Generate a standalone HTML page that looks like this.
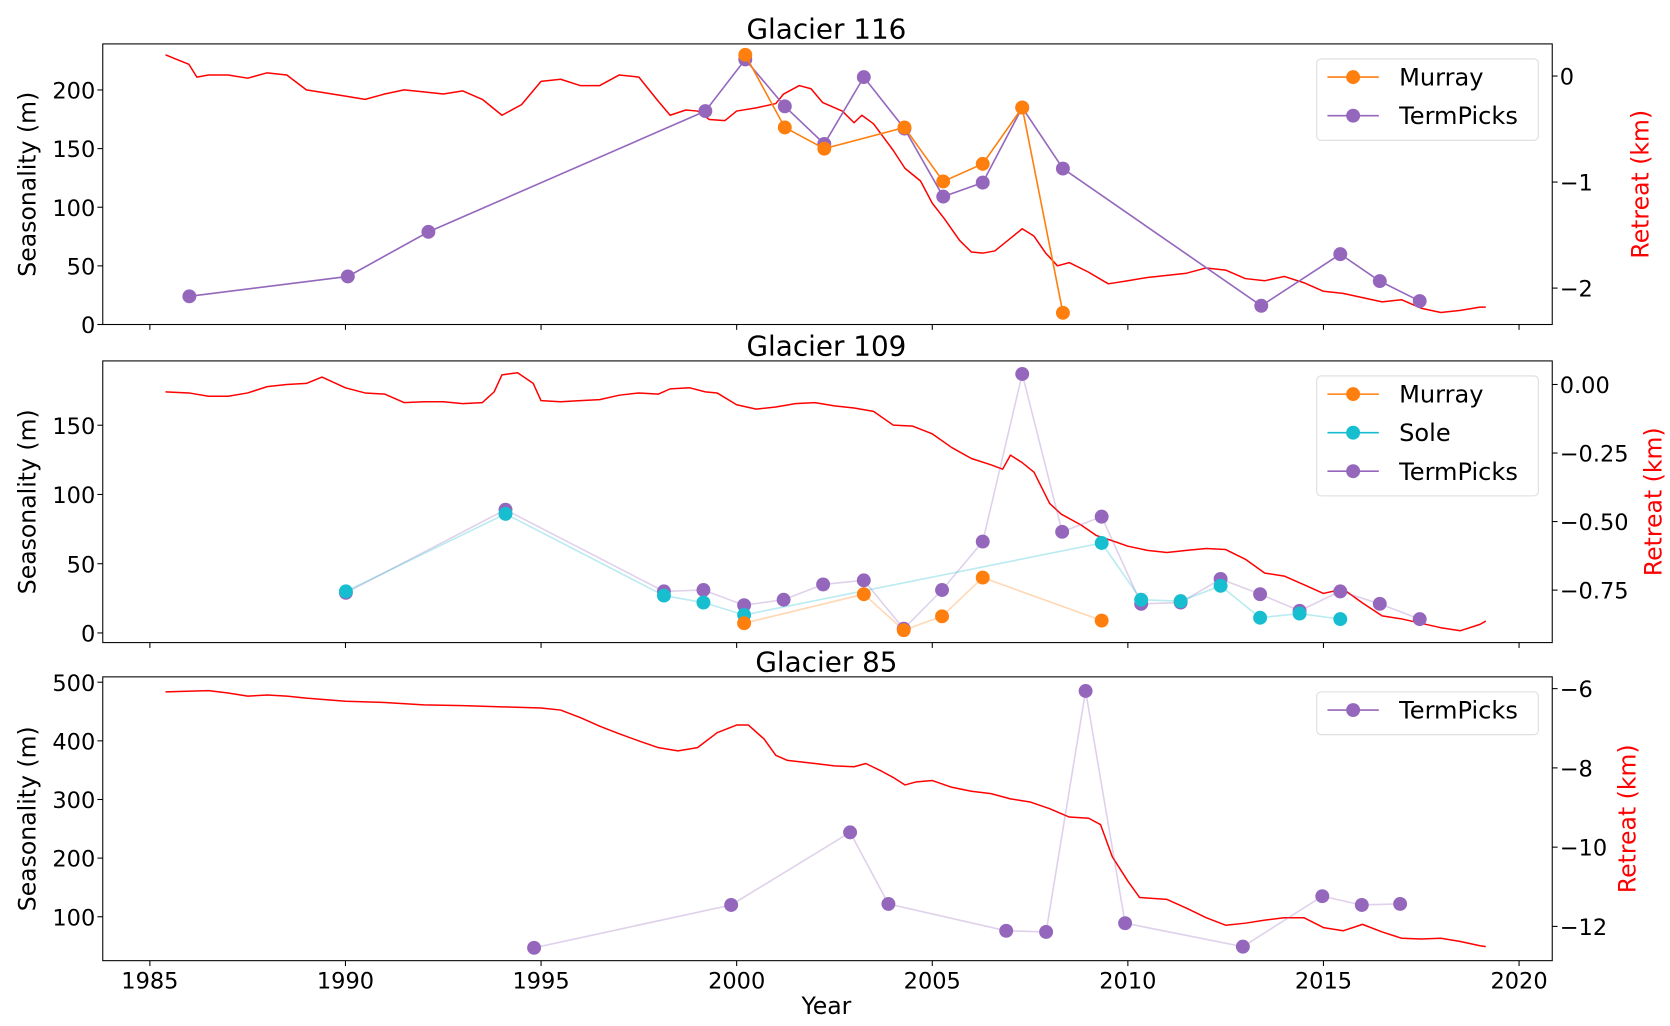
<!DOCTYPE html>
<html><head><meta charset="utf-8"><style>
html,body{margin:0;padding:0;background:#fff;}
svg{display:block;font-family:"DejaVu Sans","Liberation Sans",sans-serif;}
</style></head><body>
<svg id="chart" width="1670" height="1026" viewBox="0 0 1560 958" preserveAspectRatio="none" xmlns="http://www.w3.org/2000/svg"></svg>
<script>
// ---- Data ----
const p1TermYears=[1986.01,1990.06,1992.12,1999.2,2000.22,2001.23,2002.24,2003.25,2004.29,2005.28,2006.29,2007.30,2008.34,2013.41,2015.43,2016.44,2017.46];
const p1TermVals=[24,41,79,182,226,186,154,211,167,109,121,185,133,16,60,37,20];
const p1MurrayYears=[2000.22,2001.23,2002.24,2004.29,2005.28,2006.29,2007.30,2008.34];
const p1MurrayVals=[230,168,150,168,122,137,185,10];
const p1RedYears=[1985.4,1985.8,1986.0,1986.2,1986.5,1987,1987.5,1988,1988.5,1989,1989.5,1990,1990.5,1991,1991.5,1992,1992.5,1993,1993.5,1994,1994.5,1995,1995.5,1996,1996.5,1997,1997.5,1998,1998.3,1998.7,1999,1999.3,1999.7,2000,2000.5,2001,2001.2,2001.6,2001.9,2002.2,2002.7,2003,2003.2,2003.5,2004,2004.3,2004.7,2005,2005.3,2005.7,2006,2006.3,2006.6,2007,2007.3,2007.6,2007.9,2008.2,2008.5,2009,2009.5,2010,2010.5,2011,2011.5,2012,2012.5,2013,2013.5,2014,2014.5,2015,2015.5,2016,2016.5,2017,2017.5,2018,2018.5,2019,2019.15];
const p1RedVals=[0.20,0.14,0.11,-0.01,0.01,0.01,-0.02,0.03,0.01,-0.13,-0.16,-0.19,-0.22,-0.17,-0.13,-0.15,-0.17,-0.14,-0.22,-0.37,-0.27,-0.05,-0.03,-0.09,-0.09,0.01,-0.01,-0.24,-0.37,-0.32,-0.33,-0.41,-0.42,-0.33,-0.30,-0.26,-0.17,-0.09,-0.12,-0.25,-0.33,-0.44,-0.37,-0.45,-0.70,-0.87,-0.99,-1.20,-1.34,-1.55,-1.66,-1.67,-1.65,-1.53,-1.44,-1.51,-1.67,-1.79,-1.76,-1.85,-1.96,-1.93,-1.90,-1.88,-1.86,-1.81,-1.83,-1.91,-1.93,-1.89,-1.95,-2.03,-2.05,-2.09,-2.13,-2.11,-2.19,-2.23,-2.21,-2.18,-2.18];

const p2TermYears=[1990.01,1994.09,1998.14,1999.15,2000.19,2001.2,2002.21,2003.25,2004.27,2005.25,2006.29,2007.3,2008.32,2009.33,2010.34,2011.35,2012.37,2013.38,2014.39,2015.43,2016.44,2017.46];
const p2TermVals=[29,89,30,31,20,24,35,38,3,31,66,187,73,84,21,22,39,28,16,30,21,10];
const p2SoleYears=[1990.01,1994.09,1998.14,1999.15,2000.19,2009.33,2010.34,2011.35,2012.37,2013.38,2014.39,2015.43];
const p2SoleVals=[30,86,27,22,13,65,24,23,34,11,14,10];
const p2MurrayYears=[2000.19,2003.25,2004.27,2005.25,2006.29,2009.33];
const p2MurrayVals=[7,28,2,12,40,9];
const p2RedYears=[1985.4,1986,1986.5,1987,1987.5,1988,1988.5,1989,1989.4,1990,1990.5,1991,1991.5,1992,1992.5,1993,1993.5,1993.8,1994,1994.4,1994.8,1995,1995.5,1996,1996.5,1997,1997.5,1998,1998.3,1998.8,1999.2,1999.5,2000,2000.5,2001,2001.5,2002,2002.5,2003,2003.5,2004,2004.5,2005,2005.5,2006,2006.5,2006.8,2007,2007.3,2007.6,2008,2008.3,2008.8,2009.2,2009.6,2010,2010.5,2011,2011.5,2012,2012.5,2013,2013.5,2014,2014.5,2015,2015.5,2016,2016.5,2017,2017.5,2018,2018.5,2019,2019.15];
const p2RedVals=[-0.027,-0.031,-0.043,-0.043,-0.031,-0.008,0,0.004,0.027,-0.012,-0.031,-0.035,-0.066,-0.063,-0.063,-0.070,-0.066,-0.027,0.035,0.043,0.004,-0.059,-0.063,-0.059,-0.055,-0.039,-0.031,-0.035,-0.016,-0.012,-0.027,-0.031,-0.074,-0.090,-0.082,-0.070,-0.066,-0.078,-0.086,-0.098,-0.148,-0.152,-0.180,-0.230,-0.270,-0.293,-0.309,-0.258,-0.285,-0.320,-0.434,-0.473,-0.512,-0.551,-0.570,-0.590,-0.605,-0.613,-0.605,-0.598,-0.602,-0.637,-0.688,-0.699,-0.730,-0.762,-0.746,-0.797,-0.844,-0.855,-0.871,-0.887,-0.898,-0.875,-0.863];

const p3TermYears=[1994.82,1999.86,2002.9,2003.88,2006.89,2007.91,2008.92,2009.93,2012.94,2014.97,2015.98,2016.96];
const p3TermVals=[47,120,244,122,76,74,485,89,49,135,120,122];
const p3RedYears=[1985.4,1986.5,1987,1987.5,1988,1988.5,1989,1990,1991,1992,1993,1994,1995,1995.5,1996,1996.5,1997,1997.5,1998,1998.5,1999,1999.5,2000,2000.3,2000.7,2001,2001.3,2002,2002.5,2003,2003.3,2003.7,2004,2004.3,2004.6,2005,2005.5,2006,2006.5,2007,2007.5,2008,2008.5,2009,2009.3,2009.6,2010,2010.3,2011,2011.5,2012,2012.5,2013,2013.5,2014,2014.5,2015,2015.5,2016,2016.5,2017,2017.5,2018,2018.5,2019,2019.15];
const p3RedVals=[-6.08,-6.05,-6.11,-6.19,-6.16,-6.19,-6.24,-6.32,-6.35,-6.41,-6.43,-6.46,-6.49,-6.54,-6.73,-6.95,-7.14,-7.32,-7.49,-7.57,-7.49,-7.11,-6.92,-6.92,-7.27,-7.68,-7.81,-7.89,-7.95,-7.97,-7.89,-8.08,-8.24,-8.43,-8.35,-8.32,-8.49,-8.59,-8.65,-8.78,-8.86,-9.03,-9.24,-9.27,-9.43,-10.24,-10.86,-11.27,-11.32,-11.54,-11.78,-11.97,-11.92,-11.84,-11.78,-11.78,-12.03,-12.11,-11.95,-12.14,-12.30,-12.32,-12.30,-12.38,-12.49,-12.51];

const xTicks=[1985,1990,1995,2000,2005,2010,2015,2020];
const p1LeftTicks=[0,50,100,150,200];
const p1RightTicks=[0,-1,-2];
const p1RightLabels=["0","−1","−2"];
const p2LeftTicks=[0,50,100,150];
const p2RightTicks=[0,-0.25,-0.5,-0.75];
const p2RightLabels=["0.00","−0.25","−0.50","−0.75"];
const p3LeftTicks=[100,200,300,400,500];
const p3RightTicks=[-6,-8,-10,-12];
const p3RightLabels=["−6","−8","−10","−12"];

// ---- Rendering ----
const NS="http://www.w3.org/2000/svg";
const svg=document.getElementById('chart');
function mk(tag,attrs,parent){const e=document.createElementNS(NS,tag);for(const k in attrs)e.setAttribute(k,attrs[k]);(parent||svg).appendChild(e);return e;}
const X0=96,X1=1450;
function xs(y){return 140+(y-1985)*(1279/35);}
const C={purple:"#9467bd",orange:"#ff7f0e",cyan:"#17becf"};

function panel(o){
  const g=mk('g',{});
  
  
  const pts=o.redYears.map((y,i)=>xs(y).toFixed(1)+","+o.ry(o.redVals[i]).toFixed(1)).join(" ");
  const red=mk('polyline',{points:pts,fill:"none",stroke:"#ff0000","stroke-width":1.4,"stroke-linejoin":"round"},g);
  
  
  o.series.forEach(s=>{
    const sg=mk('g',{},g);
    
    
    const p=s.years.map((y,i)=>xs(y).toFixed(1)+","+o.ly(s.vals[i]).toFixed(1)).join(" ");
    mk('polyline',{points:p,fill:"none",stroke:s.color,"stroke-width":1.5,"stroke-opacity":s.alpha},sg);
    s.years.forEach((y,i)=>{
      const c=mk('circle',{cx:xs(y).toFixed(1),cy:o.ly(s.vals[i]).toFixed(1),r:6.5,fill:s.color},sg);
      
      
    });
  });
  const fr=mk('rect',{x:X0,y:o.top,width:X1-X0,height:o.bottom-o.top,fill:"none",stroke:"#000","stroke-width":1},g);
  
  
  xTicks.forEach(t=>{
    mk('line',{x1:xs(t),x2:xs(t),y1:o.bottom,y2:o.bottom+5,stroke:"#000"},g);
    if(o.xlabels){
      const tx=mk('text',{x:xs(t),y:o.bottom+26,"font-size":21,"text-anchor":"middle"},g);
      tx.textContent=t;
      
      
    }
  });
  o.leftTicks.forEach(t=>{
    const y=o.ly(t);
    mk('line',{x1:X0-5,x2:X0,y1:y,y2:y,stroke:"#000"},g);
    const tx=mk('text',{x:X0-7,y:y+8,"font-size":21,"text-anchor":"end"},g);
    tx.textContent=t;
    
    
  });
  o.rightTicks.forEach((t,i)=>{
    const y=o.ry(t);
    mk('line',{x1:X1,x2:X1+5,y1:y,y2:y,stroke:"#000"},g);
    const tx=mk('text',{x:X1+7,y:y+8,"font-size":21},g);
    tx.textContent=o.rightLabels[i];
    
    
  });
  const ti=mk('text',{x:772,y:o.top-5,"font-size":26,"text-anchor":"middle"},g);
  ti.textContent=o.title;
  
  
  const cy=(o.top+o.bottom)/2;
  const yl=mk('text',{x:0,y:0,"font-size":22,"text-anchor":"middle",transform:`translate(33,${cy}) rotate(-90)`},g);
  yl.textContent="Seasonality (m)";
  
  
  const rl=mk('text',{x:0,y:0,"font-size":22,"text-anchor":"middle",fill:"#ff0000",transform:`translate(${o.rlx},${cy}) rotate(-90)`},g);
  rl.textContent="Retreat (km)";
  
  
  const n=o.series.length;
  const lg=mk('g',{},g);
  
  
  mk('rect',{x:1230,y:o.top+14,width:207,height:36*n+4,rx:4,fill:"#fff","fill-opacity":0.85,stroke:"#ddd"},lg);
  o.legendOrder.forEach((s,i)=>{
    const y=o.top+31+i*36;
    const e=mk('g',{},lg);
    
    
    mk('line',{x1:1240,x2:1288,y1:y,y2:y,stroke:s.color,"stroke-width":1.5},e);
    mk('circle',{cx:1264,cy:y,r:6.5,fill:s.color},e);
    const tx=mk('text',{x:1307,y:y+8,"font-size":22.5},e);
    tx.textContent=s.name;
  });
}

const s1T={name:"TermPicks",color:C.purple,alpha:1,years:p1TermYears,vals:p1TermVals};
const s1M={name:"Murray",color:C.orange,alpha:1,years:p1MurrayYears,vals:p1MurrayVals};
panel({name:'glacier-116-panel',title:'Glacier 116',top:41,bottom:303,ly:v=>303-v*1.095,ry:k=>71-k*99,
  redYears:p1RedYears,redVals:p1RedVals,series:[s1T,s1M],legendOrder:[s1M,s1T],
  leftTicks:p1LeftTicks,rightTicks:p1RightTicks,rightLabels:p1RightLabels,rlx:1540,xlabels:false});

const s2T={name:"TermPicks",color:C.purple,alpha:0.3,years:p2TermYears,vals:p2TermVals};
const s2S={name:"Sole",color:C.cyan,alpha:0.3,years:p2SoleYears,vals:p2SoleVals};
const s2M={name:"Murray",color:C.orange,alpha:0.3,years:p2MurrayYears,vals:p2MurrayVals};
panel({name:'glacier-109-panel',title:'Glacier 109',top:337,bottom:600,ly:v=>591-v*1.293,ry:k=>359-k*256,
  redYears:p2RedYears,redVals:p2RedVals,series:[s2T,s2S,s2M],legendOrder:[s2M,s2S,s2T],
  leftTicks:p2LeftTicks,rightTicks:p2RightTicks,rightLabels:p2RightLabels,rlx:1552,xlabels:false});

const s3T={name:"TermPicks",color:C.purple,alpha:0.3,years:p3TermYears,vals:p3TermVals};
panel({name:'glacier-85-panel',title:'Glacier 85',top:632,bottom:897,ly:v=>856-(v-100)*0.5475,ry:k=>643-(k+6)*37,
  redYears:p3RedYears,redVals:p3RedVals,series:[s3T],legendOrder:[s3T],
  leftTicks:p3LeftTicks,rightTicks:p3RightTicks,rightLabels:p3RightLabels,rlx:1528,xlabels:true});

const xl=mk('text',{x:772,y:947,"font-size":22,"text-anchor":"middle"});
xl.textContent="Year";


</script>
</body></html>
